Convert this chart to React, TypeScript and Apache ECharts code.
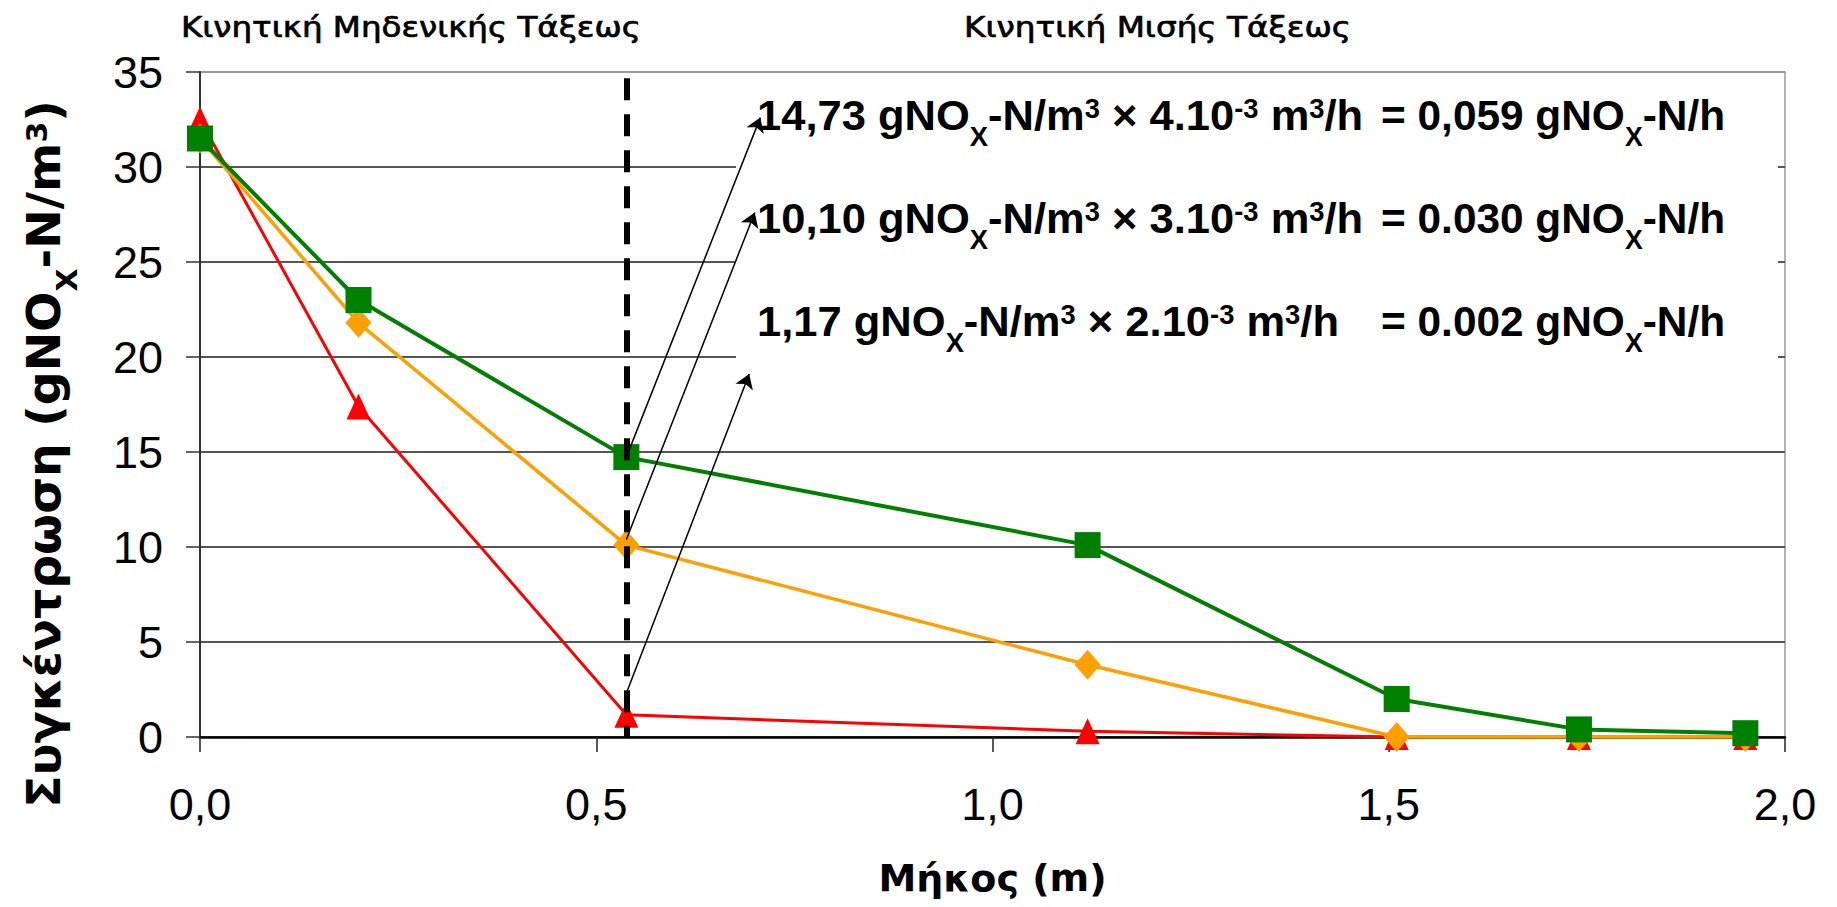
import React, { useEffect, useRef } from 'react';
import * as echarts from 'echarts';

// ---------- data ----------
const lengths = [0, 0.2, 0.538, 1.12, 1.51, 1.74, 1.95];
const redValues = [32.5, 17.4, 1.17, 0.3, 0, 0, 0];
const orangeValues = [31.5, 21.8, 10.1, 3.8, 0, 0, 0];
const greenValues = [31.5, 23.0, 14.73, 10.1, 2.0, 0.4, 0.2];

const xMin = 0;
const xMax = 2;
const xStep = 0.5;
const yMin = 0;
const yMax = 35;
const yStep = 5;

const boundaryX = 0.538;
const boundaryTop = 34.67;

const arrowStarts = [
  [0.538, 14.73],
  [0.538, 10.4],
  [0.538, 2.3],
];
const arrowEnds = [
  [0.707, 32.6],
  [0.7, 27.6],
  [0.693, 19.1],
];

const headerTexts = ['Κινητική Μηδενικής Τάξεως', 'Κινητική Μισής Τάξεως'];
const annConc = ['14,73', '10,10', '1,17'];
const annFlow = ['4.10', '3.10', '2.10'];
const annGap = ['', '', '  '];
const annResult = ['0,059', '0.030', '0.002'];
const xTitle = 'Μήκος (m)';
const yTitleMain = 'Συγκέντρωση (gNO';

// ---------- helpers ----------
const LIB = "'Liberation Sans', Arial, sans-serif";
const DJV = "'DejaVu Sans', Verdana, sans-serif";

type Frag = [string, 'b' | 'sub' | 'sup'];

const measureCanvas = document.createElement('canvas');
const mctx = measureCanvas.getContext('2d') as CanvasRenderingContext2D;
function textWidth(s: string, font: string) {
  mctx.font = font;
  return mctx.measureText(s).width;
}
function richString(frags: Frag[]) {
  return frags.map(([t, k]) => `{${k}|${t}}`).join('');
}
function fragsWidth(frags: Frag[], family: string, weight: string, base: number, small: number) {
  return frags.reduce((acc, [t, k]) => {
    const size = k === 'b' ? base : small;
    return acc + textWidth(t, `${weight} ${size}px ${family}`);
  }, 0);
}
function richStyles(family: string, weight: string, base: number, small: number) {
  return {
    b: { fontFamily: family, fontWeight: weight, fontSize: base, fill: '#000', verticalAlign: 'middle' },
    sub: {
      fontFamily: family, fontWeight: weight, fontSize: small, fill: '#000', verticalAlign: 'middle',
      padding: [Math.round(base * 1.0), 0, 0, 0],
    },
    sup: {
      fontFamily: family, fontWeight: weight, fontSize: small, fill: '#000', verticalAlign: 'middle',
      padding: [0, 0, Math.round(base * 0.3), 0],
    },
  };
}

function leftFrags(i: number): Frag[] {
  return [
    [`${annConc[i]} gNO`, 'b'],
    ['X', 'sub'],
    ['-N/m', 'b'],
    ['3', 'sup'],
    [` × ${annFlow[i]}`, 'b'],
    ['-3', 'sup'],
    [' m', 'b'],
    ['3', 'sup'],
    [`/h${annGap[i]}`, 'b'],
  ];
}
function rightFrags(i: number): Frag[] {
  return [
    [`= ${annResult[i]} gNO`, 'b'],
    ['X', 'sub'],
    ['-N/h', 'b'],
  ];
}
const yTitleFrags: Frag[] = [
  [yTitleMain, 'b'],
  ['X', 'sub'],
  ['-N/m', 'b'],
  ['3', 'sup'],
  [')', 'b'],
];

export default function App() {
  const ref = useRef<HTMLDivElement>(null);

  useEffect(() => {
    const el = ref.current;
    if (!el) return;
    const chart = echarts.init(el, null, { renderer: 'svg' });

    // annotation texts
    const ANN_BASE = 43;
    const ANN_SMALL = 27;
    const annLeftX = 757;
    const annRightX = 1381;
    const annYs = [115, 218, 321];
    const sL = (1363 - annLeftX) / fragsWidth(leftFrags(0), LIB, 'bold', ANN_BASE, ANN_SMALL);
    const sR = (1725 - annRightX) / fragsWidth(rightFrags(0), LIB, 'bold', ANN_BASE, ANN_SMALL);
    const annRich = richStyles(LIB, 'bold', ANN_BASE, ANN_SMALL);

    const annElements: any[] = [];
    annConc.forEach((_, i) => {
      annElements.push({
        type: 'text', x: annLeftX, y: annYs[i], scaleX: sL, z: 10, silent: true,
        style: { text: richString(leftFrags(i)), rich: annRich, align: 'left', verticalAlign: 'middle', fill: '#000' },
      });
      annElements.push({
        type: 'text', x: annRightX, y: annYs[i], scaleX: sR, z: 10, silent: true,
        style: { text: richString(rightFrags(i)), rich: annRich, align: 'left', verticalAlign: 'middle', fill: '#000' },
      });
    });

    // headers
    const HDR_SIZE = 28;
    const hdrX = [181, 964];
    const hdrW = [460, 387];
    const hdrElements = headerTexts.map((t, i) => ({
      type: 'text', x: hdrX[i], y: 27, z: 10, silent: true,
      scaleX: hdrW[i] / textWidth(t, `normal ${HDR_SIZE}px ${DJV}`),
      style: {
        text: t, fontFamily: DJV, fontWeight: 'normal', fontSize: HDR_SIZE, fill: '#000',
        stroke: '#000', lineWidth: 0.7,
        align: 'left', verticalAlign: 'middle',
      },
    }));

    // y title
    const YT_BASE = 46;
    const YT_SMALL = 29;
    const yTitleScale = 708 / fragsWidth(yTitleFrags, DJV, 'bold', YT_BASE, YT_SMALL);
    const yTitle = {
      type: 'text', x: 44, y: 454, rotation: Math.PI / 2, scaleX: yTitleScale, z: 10, silent: true,
      style: {
        text: richString(yTitleFrags),
        rich: richStyles(DJV, 'bold', YT_BASE, YT_SMALL),
        align: 'center', verticalAlign: 'middle', fill: '#000',
      },
    };

    const pts = (vals: number[]) => lengths.map((x, i) => [x, vals[i]]);
    const gridColors = ['#555', '#555', '#555', '#555', '#555', '#555', '#555', '#999'];

    const option: any = {
      animation: false,
      backgroundColor: '#ffffff',
      grid: {
        left: 200, right: 52, top: 72, bottom: 170,
        show: true, borderColor: '#999', borderWidth: 1.5, backgroundColor: 'transparent',
        outerBoundsMode: 'none', containLabel: false,
      },
      xAxis: {
        type: 'value', min: xMin, max: xMax, interval: xStep,
        axisLine: { show: true, onZero: false, lineStyle: { color: '#000', width: 2.5 } },
        axisTick: { show: true, inside: false, length: 15, lineStyle: { color: '#222', width: 1.5 } },
        axisLabel: {
          show: true, margin: 45, fontSize: 45, color: '#000', fontFamily: LIB,
          showMinLabel: true, showMaxLabel: true,
          formatter: (v: number) => v.toFixed(1).replace('.', ','),
        },
        splitLine: { show: false },
        name: xTitle, nameLocation: 'middle', nameGap: 122,
        nameTextStyle: { fontFamily: DJV, fontWeight: 'bold', fontSize: 38, color: '#000' },
      },
      yAxis: {
        type: 'value', min: yMin, max: yMax, interval: yStep,
        axisLine: { show: true, onZero: false, lineStyle: { color: '#333', width: 2 } },
        axisTick: { show: true, inside: false, length: 14, lineStyle: { color: '#333', width: 1.5 } },
        axisLabel: {
          show: true, margin: 37, fontSize: 45, color: '#000', fontFamily: LIB,
          showMinLabel: true, showMaxLabel: true,
        },
        splitLine: { show: true, lineStyle: { color: gridColors, width: 2 } },
      },
      series: [
        {
          name: 'red', type: 'line', data: pts(redValues),
          symbol: 'triangle', symbolSize: [24, 26],
          itemStyle: { color: '#FF0000' }, lineStyle: { color: '#FF0000', width: 3 },
          emphasis: { disabled: true }, z: 2,
        },
        {
          name: 'orange', type: 'line', data: pts(orangeValues),
          symbol: 'diamond', symbolSize: [26, 30],
          itemStyle: { color: '#FF9F00' }, lineStyle: { color: '#FF9F00', width: 3.5 },
          emphasis: { disabled: true }, z: 3,
        },
        {
          name: 'green', type: 'line', data: pts(greenValues),
          symbol: 'rect', symbolSize: 26,
          itemStyle: { color: '#008000' }, lineStyle: { color: '#008000', width: 4 },
          emphasis: { disabled: true }, z: 4,
        },
        {
          name: 'boundary', type: 'lines', coordinateSystem: 'cartesian2d', polyline: false,
          symbol: ['none', 'none'],
          lineStyle: { color: '#000', width: 6, type: [22, 14], opacity: 1, curveness: 0 },
          data: [{ coords: [[boundaryX, boundaryTop], [boundaryX, 0]] }],
          z: 5, silent: true,
        },
        {
          name: 'arrows', type: 'lines', coordinateSystem: 'cartesian2d', polyline: false,
          symbol: ['none', 'arrow'], symbolSize: 14,
          itemStyle: { color: '#000' },
          lineStyle: { color: '#000', width: 1.5, opacity: 1, curveness: 0 },
          data: arrowStarts.map((s, i) => ({ coords: [s, arrowEnds[i]] })),
          z: 6, silent: true,
        },
      ],
      graphic: {
        elements: [
          { type: 'rect', shape: { x: 736, y: 79, width: 1042, height: 330 }, style: { fill: '#ffffff' }, z: 1, silent: true },
          ...hdrElements,
          ...annElements,
          yTitle,
        ],
      },
    };

    chart.setOption(option);
    return () => chart.dispose();
  }, []);

  return (
    <div
      ref={ref}
      style={{ position: 'fixed', left: 0, top: 0, width: 1837, height: 907, background: '#ffffff' }}
    />
  );
}
